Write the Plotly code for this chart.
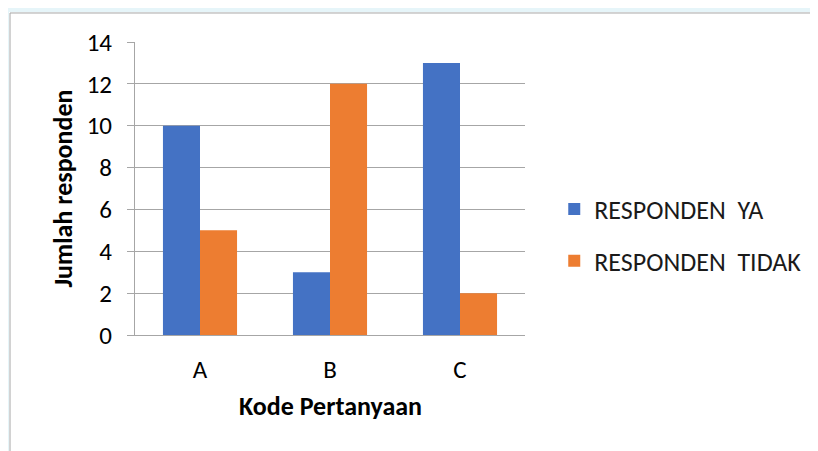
import plotly.graph_objects as go

categories = ["A", "B", "C"]
ya_values = [10, 3, 13]
tidak_values = [5, 12, 2]
series_names = ["RESPONDEN  YA", "RESPONDEN  TIDAK"]
y_ticks = [0, 2, 4, 6, 8, 10, 12, 14]

BLUE = "#4472C4"
ORANGE = "#ED7D31"
GRID = "#A6A6A6"
FONT = "Carlito, Lato, Liberation Sans"

fig = go.Figure()
fig.add_trace(go.Bar(x=categories, y=ya_values, name=series_names[0],
                     marker=dict(color=BLUE, line=dict(width=0)), legendgroup="a"))
fig.add_trace(go.Bar(x=categories, y=tidak_values, name=series_names[1],
                     marker=dict(color=ORANGE, line=dict(width=0)), legendgroup="b"))

fig.update_layout(
    width=818, height=451,
    margin=dict(l=127, r=301, t=34, b=124),
    paper_bgcolor="white", plot_bgcolor="white",
    barmode="group", bargap=0.43, bargroupgap=0,
    font=dict(family=FONT, color="#000000", size=25),
    showlegend=True,
    legend=dict(x=1.075, xanchor="left", y=0.341, yanchor="middle",
                font=dict(size=26, family=FONT, color="#1a1a1a"), tracegroupgap=15,
                itemwidth=30, bgcolor="rgba(0,0,0,0)"),
    xaxis=dict(showline=True, linecolor=GRID, linewidth=1, ticks="",
               tickfont=dict(size=25), showgrid=False, ticklabelstandoff=12),
    yaxis=dict(range=[0, 14], tickvals=y_ticks, showgrid=True, gridcolor=GRID, gridwidth=1,
               showline=True, linecolor=GRID, linewidth=1,
               ticks="outside", ticklen=7, tickcolor=GRID,
               tickfont=dict(size=25), ticklabelstandoff=10, zeroline=False),
    annotations=[
        dict(text="<b>Jumlah responden</b>", xref="paper", yref="paper",
             x=0, y=0.5, xshift=-91, textangle=-90, showarrow=False,
             font=dict(size=26, family=FONT)),
        dict(text="<b>Kode Pertanyaan</b>", xref="paper", yref="paper",
             x=0.5, y=0, yshift=-89, showarrow=False,
             font=dict(size=26, family=FONT)),
    ],
    shapes=[
        dict(type="rect", xref="paper", yref="paper", x0=-0.35, x1=1.8, y0=1.102, y1=1.15,
             fillcolor="#E6F5F9", line=dict(width=0), layer="below"),
        dict(type="rect", xref="paper", yref="paper", x0=-0.35, x1=-0.323, y0=-0.5, y1=1.15,
             fillcolor="#E6F5F9", line=dict(width=0), layer="below"),
        dict(type="line", xref="paper", yref="paper", x0=-0.3205, x1=1.8, y0=1.099, y1=1.099,
             line=dict(color=GRID, width=1)),
        dict(type="line", xref="paper", yref="paper", x0=-0.3205, x1=-0.3205, y0=1.099, y1=-0.5,
             line=dict(color=GRID, width=1)),
    ],
)

fig.write_html("out.html")
